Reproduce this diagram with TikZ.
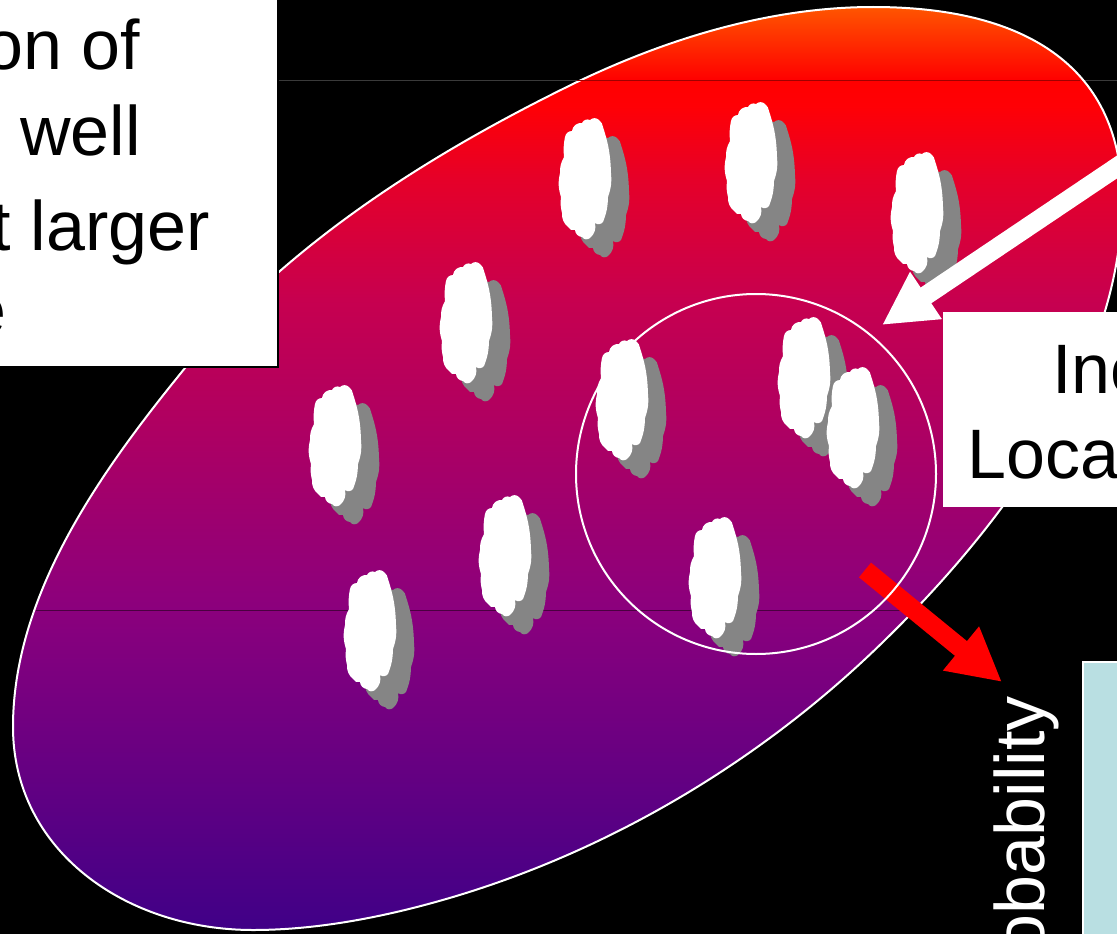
\documentclass[tikz,border=0pt]{standalone}
\usepackage{fontspec}
\usepackage{xcolor}
\usepackage{tikz}
\usetikzlibrary{arrows.meta}
\setmainfont{Liberation Sans}

\definecolor{puffgray}{HTML}{858585}
\definecolor{panelblue}{HTML}{B9DFE2}
\definecolor{ruledim}{HTML}{3A3A3A}
\definecolor{ruledark}{HTML}{4A0040}
\definecolor{ruleember}{HTML}{A00000}

\pgfdeclareverticalshading{blobfade}{100bp}{
    rgb(0bp)=(0.25,0,0.53);
    rgb(25bp)=(0.25,0,0.53);
    rgb(42.4bp)=(0.545,0,0.49);
    rgb(59.2bp)=(0.78,0,0.31);
    rgb(65.7bp)=(0.9,0,0.16);
    rgb(69.7bp)=(1,0,0.02);
    rgb(71.1bp)=(1,0,0);
    rgb(75bp)=(1,0.33,0);
    rgb(100bp)=(1,0.33,0)}

\newcommand{\blobpath}{(13,727)
    .. controls (13,594) and (101,471) .. (185,368)
    .. controls (288,243) and (431,153) .. (577,82)
    .. controls (669,38) and (771,7) .. (873,7)
    .. controls (1030,7) and (1122,70) .. (1122,200)
    .. controls (1122,360) and (1010,518) .. (885,640)
    .. controls (765,758) and (614,849) .. (453,897)
    .. controls (389,916) and (320,930) .. (253,930)
    .. controls (125,930) and (13,850) .. (13,727) -- cycle}

\newcommand{\puffpath}{(-14,-47) to[bend left=45] (-4,-55) to[bend left=45] (4,-58)
    to[bend left=45] (13,-58) to[bend left=20] (17,-51) to[bend left=8] (25,-5)
    to[bend left=12] (22,19) to[bend left=10] (17,44) to[bend left=45] (9,45)
    to[bend left=30] (4,60) to[bend left=50] (-4,59) to[bend left=40] (-11,52)
    to[bend left=40] (-18,49) to[bend left=25] (-24,35) to[bend left=10] (-25,19)
    to[bend left=15] (-26,-5) to[bend left=15] (-22,-21) to[bend left=8] (-21,-41)
    to[bend left=40] cycle}

\begin{document}
\begin{tikzpicture}[
    x=1pt, y=-1pt,
    puff/.pic={
        \fill[puffgray, shift={(18,18)}] \puffpath;
        \fill[white] \puffpath;
    },
    boxtext/.style={inner sep=0pt, font=\fontsize{70}{84}\selectfont},
    sheet/.style={rectangle, draw, inner sep=0pt},
    bigarrow/.style={line width=19pt, -{Triangle[length=53pt, width=53pt]}}
]
\clip (0,0) rectangle (1117,934);
\fill[black] (0,0) rectangle (1117,934);

\draw[ruledim, line width=1pt] (278,81) -- (1117,81);

% blob with its fade
\begin{scope}
    \clip \blobpath;
    \shade[shading=blobfade] (0,8) rectangle (1117,930);
\end{scope}
\draw[white, line width=2pt] \blobpath;
\draw[ruleember, line width=1pt] (577,81) -- (1080,81);
\draw[ruledark, line width=1pt] (36,610) -- (900,610);

\pic at (586,178) {puff};
\pic at (752,162) {puff};
\pic at (918,212) {puff};
\pic at (467,322) {puff};
\pic at (336,445) {puff};
\pic at (623,399) {puff};
\pic at (805,377) {puff};
\pic at (854,427) {puff};
\pic at (506,555) {puff};
\pic at (716,577) {puff};
\pic at (371,630) {puff};

\coordinate (whitetail) at (1140,151.5);
\coordinate (whitetip) at (882,325);
\coordinate (redtail) at (865,570);
\coordinate (redtip) at (1002,682);

\draw[bigarrow, red] (redtail) -- (redtip);
\node[circle, draw=white, line width=2pt, inner sep=0pt, minimum size=360pt] (nearby) at (756,474) {};
\draw[bigarrow, white] (whitetail) -- (whitetip);

% cut off boxes
\node[sheet, draw=black, line width=2pt, fill=white, anchor=south east, minimum width=320pt, minimum height=400pt] (notebox) at (279,368) {};
\node[boxtext, anchor=base east] (noteone) at (140,70) {on of};
\node[boxtext, anchor=base east] (notetwo) at (141,155) {well};
\node[boxtext, anchor=base east] (notethree) at (210,250) {t larger};
\node[boxtext, anchor=base east] (notefour) at (7,334) {e};

\node[sheet, draw=none, fill=white, anchor=north west, minimum width=220pt, minimum height=195pt] (incbox) at (943,312) {};
\node[boxtext, anchor=base west] (incone) at (1052,393) {Inc};
\node[boxtext, anchor=base west] (inctwo) at (967,478) {Loca};

\node[sheet, draw=white, line width=2pt, fill=panelblue, anchor=north west, minimum width=100pt, minimum height=320pt] (panel) at (1082,661) {};
\node[boxtext, white, rotate=90, anchor=base east] (problabel) at (1044,696) {obability};

\end{tikzpicture}
\end{document}
